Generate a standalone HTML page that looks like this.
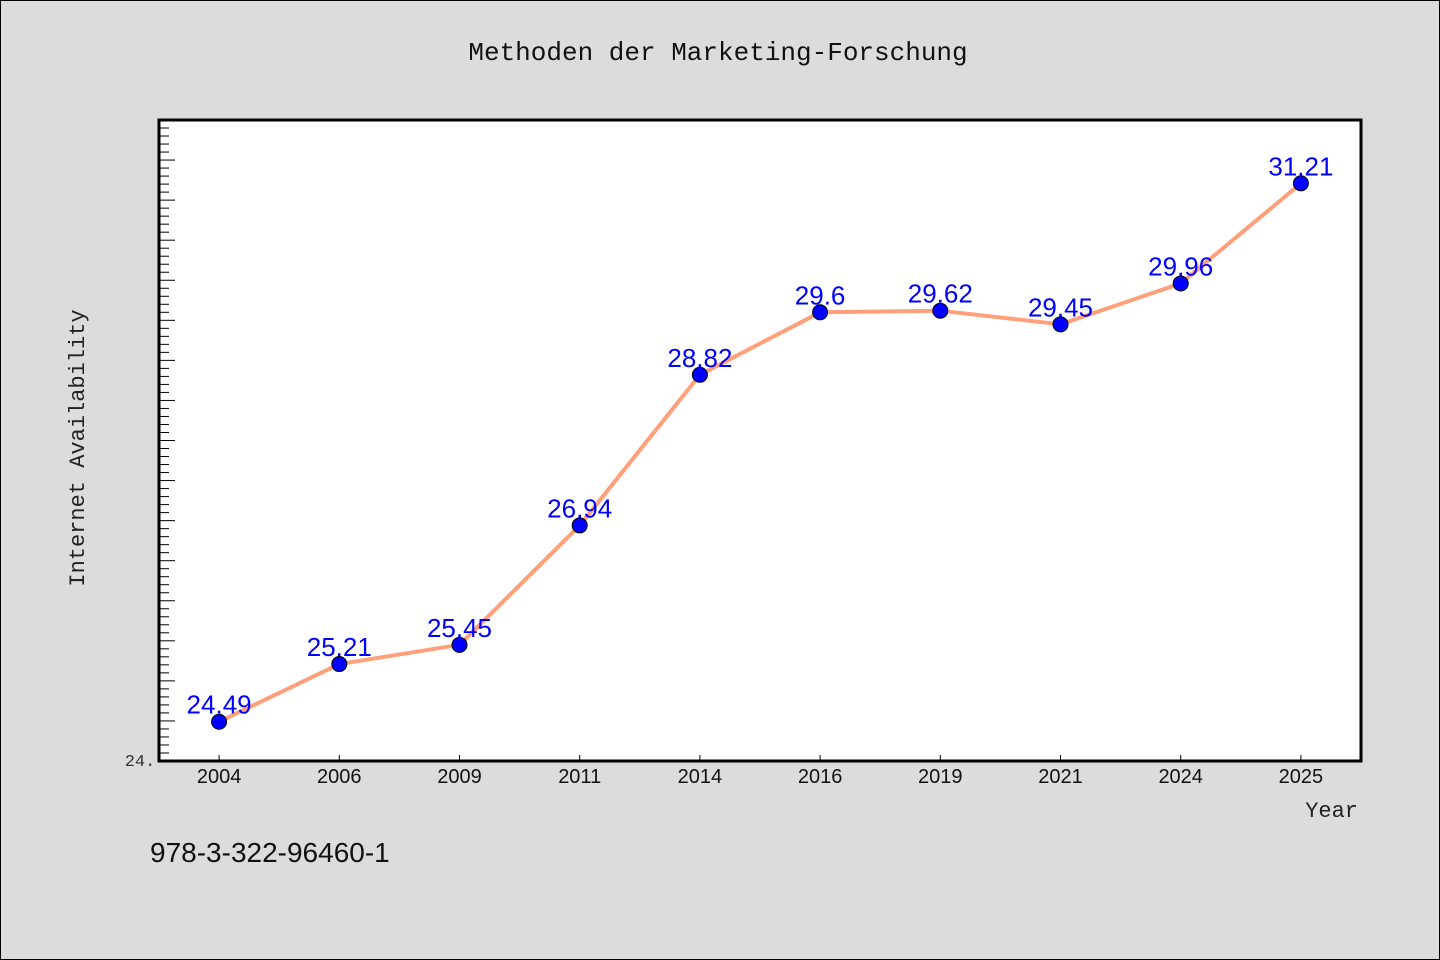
<!DOCTYPE html>
<html><head><meta charset="utf-8">
<style>
body{margin:0;background:#dcdcdc;}
svg{display:block;font-family:"Liberation Mono","DejaVu Sans Mono",monospace;}
</style></head>
<body>
<svg width="1440" height="960" id="chart">
<rect x="0.5" y="0.5" width="1439" height="959" fill="#dcdcdc" stroke="#000"/>
<text x="718" y="60" text-anchor="middle" font-size="26" fill="#111">Methoden der Marketing-Forschung</text>
<rect x="159" y="120" width="1202" height="641" fill="#fff"/>
<g id="ticks"></g>
<g id="marks"></g>
<rect x="159" y="120" width="1202" height="641" fill="none" stroke="#000" stroke-width="3"/>
<text x="140" y="766" text-anchor="middle" font-size="17" fill="#333">24.</text>
<text transform="translate(84,448) rotate(-90)" text-anchor="middle" font-size="22" fill="#222">Internet Availability</text>
<text x="1358" y="817" text-anchor="end" font-size="22" fill="#222">Year</text>
<text x="150" y="862" font-size="28" fill="#111" font-family="Liberation Sans, sans-serif">978-3-322-96460-1</text>
</svg>
<script>
const categories=["2004","2006","2009","2011","2014","2016","2019","2021","2024","2025"];
const values=[24.49,25.21,25.45,26.94,28.82,29.6,29.62,29.45,29.96,31.21];
const yDomain=[24,32];
const NS="http://www.w3.org/2000/svg";
const L=159,R=1361,T=120,B=761;
const band=(R-L)/categories.length;
function x(i){return L+band*(i+0.5);}
function y(v){return B-(v-yDomain[0])/(yDomain[1]-yDomain[0])*(B-T);}
function mk(tag,attrs,parent){const e=document.createElementNS(NS,tag);for(const k in attrs)e.setAttribute(k,attrs[k]);parent.appendChild(e);return e;}
const tg=document.getElementById('ticks');
for(let k=0;k<=80;k++){
  const v=yDomain[0]+k*0.1;const yy=y(v);
  const len=(k%5===0)?16:10;
  const t=mk('line',{x1:L,x2:L+len,y1:yy,y2:yy,stroke:'#000','stroke-width':1},tg);
  
  
}
categories.forEach((c,i)=>{
  const t=mk('line',{x1:x(i),x2:x(i),y1:B,y2:B-6,stroke:'#000','stroke-width':1},tg);
  
  
  const lb=mk('text',{x:x(i),y:783,'text-anchor':'middle','font-size':20,fill:'#111','font-family':'Liberation Sans, sans-serif'},tg);
  lb.textContent=c;
  
  
});
const mg=document.getElementById('marks');
const line=mk('polyline',{points:values.map((v,i)=>x(i)+','+y(v)).join(' '),fill:'none',stroke:'#ffa07a','stroke-width':4,'stroke-linejoin':'round'},mg);


values.forEach((v,i)=>{
  const c=mk('circle',{cx:x(i),cy:y(v),r:7.5,fill:'#0000ff',stroke:'#000','stroke-width':1},mg);
  
  
  const t=mk('text',{x:x(i),y:y(v)-8,'text-anchor':'middle','font-size':26,fill:'#0000ff','font-family':'Liberation Sans, sans-serif'},mg);
  t.textContent=String(v);
  
  
});
</script>
</body></html>
